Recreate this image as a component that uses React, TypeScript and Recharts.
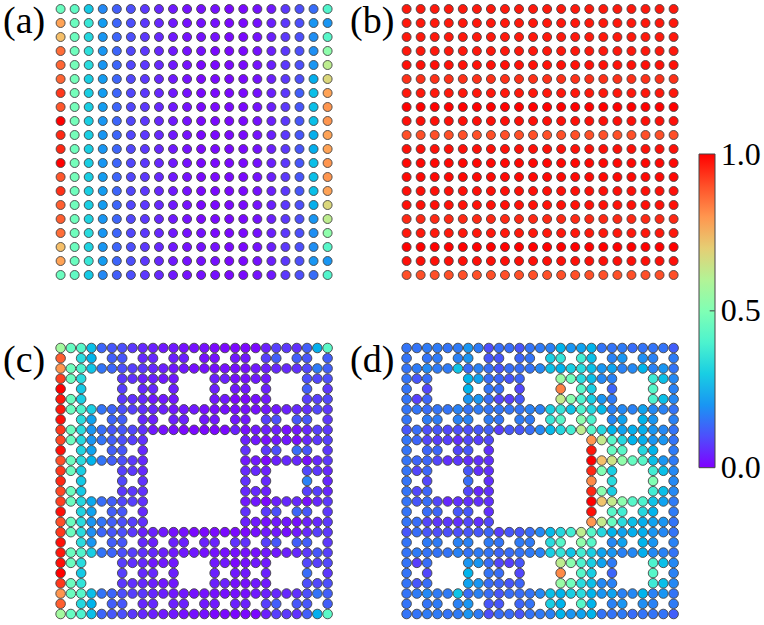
import React from 'react';
import { BarChart, Bar, ScatterChart, Scatter, XAxis, YAxis } from 'recharts';

const _ = null;

// site values in percent; null = no site
const panelARows = [
  [46,44,29,18,12,10,7,5,3,2,2,2,1,1,2,3,7,10,14,41],
  [78,46,36,21,13,10,7,5,3,2,2,2,1,1,2,4,7,10,20,20],
  [73,46,32,20,13,10,7,5,3,2,2,2,1,1,2,4,7,10,19,42],
  [86,47,34,20,13,9,7,5,3,2,2,1,1,1,2,4,7,10,19,53],
  [87,48,33,20,13,9,7,5,3,2,1,1,1,1,2,4,7,10,20,62],
  [87,48,30,21,13,9,7,5,3,2,1,1,1,1,2,4,7,10,24,68],
  [93,48,30,21,13,9,7,5,3,2,1,1,1,1,2,4,7,12,27,78],
  [89,48,30,21,13,9,7,5,3,2,1,1,1,1,2,4,7,11,27,80],
  [100,48,30,20,13,9,7,5,3,2,1,1,1,1,2,4,7,11,27,80],
  [95,48,30,20,13,9,7,5,3,2,1,1,1,1,2,4,7,11,24,78],
  [95,47,30,20,13,9,7,5,3,2,1,1,1,1,2,4,7,11,24,78],
  [100,48,30,20,13,9,7,5,3,2,1,1,1,1,2,4,7,11,27,80],
  [89,48,30,21,13,9,7,5,3,2,1,1,1,1,2,4,7,11,27,80],
  [94,47,30,21,13,9,7,5,3,2,1,1,1,1,2,4,7,11,27,78],
  [88,47,30,21,13,9,7,5,3,2,1,1,1,1,2,4,7,10,24,68],
  [88,47,31,20,13,9,7,5,3,2,1,1,1,1,2,4,7,10,20,62],
  [86,47,33,20,13,9,7,5,3,2,2,1,1,1,2,4,7,10,19,53],
  [73,46,31,20,13,10,7,5,3,2,2,2,1,1,2,4,7,10,19,42],
  [78,46,36,21,13,10,7,5,3,2,2,2,1,1,2,4,7,10,20,20],
  [46,44,29,18,12,10,7,5,3,2,2,2,1,1,2,3,7,10,14,41],
];

// panel (b): every site in a row has the same value
const panelBRowValues = [97,97,97,97,98,94,97,100,98,90,98,99,99,98,98,95,97,100,98,90];
const panelBColumnCount = 20;

const panelCRows = [
  [57,45,42,27,13,11,10,7,5,4,3,3,2,2,2,1,1,1,1,1,4,8,7,6,12,24,43],
  [88,_,33,25,_,12,11,_,5,5,_,4,4,_,2,2,_,3,3,_,8,12,_,12,11,_,12],
  [80,47,40,28,15,13,10,8,7,5,4,3,3,2,2,2,2,2,2,3,4,5,5,6,9,16,12],
  [92,46,33,_,_,_,7,6,4,4,3,3,_,_,_,4,4,2,2,3,3,_,_,_,10,9,10],
  [100,_,29,_,_,_,8,_,5,5,_,4,_,_,_,4,_,3,3,_,4,_,_,_,12,_,7],
  [97,46,30,_,_,_,7,6,5,3,3,3,_,_,_,3,3,1,1,2,3,_,_,_,8,8,9],
  [97,46,40,30,15,13,10,8,6,5,4,3,3,3,2,2,2,2,2,2,3,3,4,5,6,9,7],
  [98,_,33,22,_,13,12,_,5,4,_,4,4,_,3,3,_,3,3,_,8,10,_,11,11,_,7],
  [93,46,33,20,14,11,11,9,6,3,2,2,1,1,1,1,1,4,2,3,4,4,2,3,5,8,7],
  [91,46,32,20,15,12,10,8,6,_,_,_,_,_,_,_,_,_,4,3,2,3,3,2,5,7,8],
  [98,_,31,22,_,12,11,_,5,_,_,_,_,_,_,_,_,_,6,_,7,10,_,14,11,_,7],
  [90,46,33,25,15,12,10,7,5,_,_,_,_,_,_,_,_,_,3,3,1,4,5,5,2,5,7],
  [93,46,30,_,_,_,8,7,5,_,_,_,_,_,_,_,_,_,5,5,4,_,_,_,9,7,5],
  [95,_,29,_,_,_,9,_,6,_,_,_,_,_,_,_,_,_,6,_,5,_,_,_,17,_,5],
  [91,46,29,_,_,_,7,7,6,_,_,_,_,_,_,_,_,_,5,5,4,_,_,_,8,8,5],
  [92,46,32,23,14,12,9,8,6,_,_,_,_,_,_,_,_,_,3,3,1,4,5,5,2,5,7],
  [98,_,31,22,_,12,11,_,5,_,_,_,_,_,_,_,_,_,6,_,7,10,_,13,11,_,7],
  [90,46,33,20,15,12,10,8,6,_,_,_,_,_,_,_,_,_,4,3,2,3,3,2,4,5,7],
  [93,46,33,19,13,11,10,7,4,4,3,2,2,1,1,1,1,1,1,2,3,3,2,3,5,8,7],
  [98,_,33,20,_,12,11,_,5,4,_,4,4,_,4,4,_,6,6,_,8,11,_,12,12,_,7],
  [97,46,41,30,15,13,10,8,6,5,4,3,3,3,2,2,2,2,2,2,3,3,4,5,7,11,8],
  [98,46,33,_,_,_,8,6,5,3,3,3,_,_,_,3,3,1,2,3,3,_,_,_,9,8,9],
  [100,_,29,_,_,_,8,_,5,5,_,4,_,_,_,4,_,3,3,_,4,_,_,_,14,_,7],
  [93,46,35,_,_,_,7,6,5,4,3,3,_,_,_,4,4,2,2,3,3,_,_,_,10,9,10],
  [80,46,42,27,15,13,10,8,7,5,4,3,3,2,2,2,2,2,2,3,4,5,5,6,10,15,12],
  [88,_,32,25,_,12,11,_,5,5,_,4,4,_,3,3,_,4,4,_,8,12,_,11,11,_,12],
  [57,45,40,27,13,11,10,7,5,4,3,3,2,2,2,1,1,1,1,1,4,8,7,6,12,24,43],
];

const panelDRows = [
  [15,15,16,16,15,16,20,16,10,14,14,11,15,16,17,25,20,22,25,15,15,16,14,15,15,15,12],
  [15,_,15,16,_,17,20,_,11,11,_,13,15,_,30,35,_,38,27,_,17,20,_,19,17,_,16],
  [15,16,18,16,16,28,14,17,14,11,14,14,15,18,27,25,30,33,27,20,22,17,18,25,17,20,15],
  [15,11,14,_,_,_,25,22,14,13,11,13,_,_,_,55,47,33,27,18,17,_,_,_,37,27,18],
  [15,_,9,_,_,_,25,_,15,14,_,9,_,_,_,83,_,42,30,_,13,_,_,_,42,_,17],
  [15,8,13,_,_,_,20,20,14,9,8,11,_,_,_,63,52,40,30,20,16,_,_,_,40,27,18],
  [15,15,14,15,15,17,15,16,15,15,15,15,17,17,30,35,28,40,32,26,17,18,17,22,18,17,15],
  [15,_,16,16,_,17,17,_,16,15,_,16,16,_,36,42,_,52,40,_,18,22,_,25,20,_,17],
  [11,14,10,11,9,10,10,11,12,8,11,11,14,18,26,32,38,62,42,32,25,22,24,24,20,18,15],
  [15,13,9,8,8,6,9,8,9,_,_,_,_,_,_,_,_,_,80,63,42,32,25,24,20,20,15],
  [15,_,13,13,_,9,11,_,6,_,_,_,_,_,_,_,_,_,97,_,45,42,_,32,25,_,16],
  [15,13,13,9,6,7,6,6,6,_,_,_,_,_,_,_,_,_,100,73,65,53,45,42,27,20,16],
  [15,9,13,_,_,_,11,6,6,_,_,_,_,_,_,_,_,_,95,50,30,_,_,_,38,27,18],
  [15,_,9,_,_,_,14,_,6,_,_,_,_,_,_,_,_,_,82,_,33,_,_,_,50,_,18],
  [15,9,13,_,_,_,9,5,6,_,_,_,_,_,_,_,_,_,95,52,30,_,_,_,38,27,18],
  [15,11,14,9,5,6,6,6,6,_,_,_,_,_,_,_,_,_,100,72,63,52,42,40,28,22,16],
  [15,_,14,13,_,11,11,_,6,_,_,_,_,_,_,_,_,_,98,_,42,38,_,32,25,_,16],
  [15,14,9,7,7,6,9,6,9,_,_,_,_,_,_,_,_,_,80,63,45,33,27,24,22,20,15],
  [11,14,11,10,10,10,11,11,13,8,11,11,14,18,26,32,38,62,42,32,25,22,24,24,20,18,15],
  [15,_,16,16,_,17,17,_,16,15,_,16,16,_,33,42,_,53,42,_,18,22,_,25,20,_,17],
  [15,16,15,15,15,17,15,16,15,13,14,15,16,17,30,35,28,38,30,22,20,17,18,24,18,17,15],
  [15,8,14,_,_,_,20,20,14,9,8,11,_,_,_,62,52,40,30,22,16,_,_,_,40,27,18],
  [15,_,9,_,_,_,25,_,15,14,_,9,_,_,_,82,_,42,30,_,13,_,_,_,42,_,17],
  [15,11,14,_,_,_,22,20,14,13,11,13,_,_,_,55,47,33,27,18,17,_,_,_,37,27,18],
  [15,16,18,16,16,28,14,17,14,11,14,14,15,18,27,25,30,33,25,20,22,17,18,25,17,20,15],
  [15,_,15,16,_,17,20,_,11,11,_,13,15,_,30,25,_,42,25,_,17,20,_,19,17,_,16],
  [15,15,16,16,15,16,20,16,10,14,14,11,15,16,17,25,20,22,25,15,15,16,14,15,15,15,12],
];

const colorbarTicks = [0, 0.5, 1];
const colorbarStops = [0, 10, 20, 30, 40, 50, 60, 70, 80, 90, 100];

const SERIF = '"Liberation Serif", "Times New Roman", serif';
const EDGE = '#454545';

// matplotlib's "rainbow" colormap
const rainbow = (pct: number) => {
  const x = pct / 100;
  const r = Math.round(Math.abs(2 * x - 0.5) * 255);
  const g = Math.round(Math.sin(x * Math.PI) * 255);
  const b = Math.round(Math.cos((x * Math.PI) / 2) * 255);
  return `rgb(${Math.min(r, 255)},${g},${b})`;
};

const toPoints = (rows: (number | null)[][]) =>
  rows.flatMap((row, r) =>
    row.flatMap((v, c) => (v === null ? [] : [{ col: c, row: r, v }])),
  );

const panelBRows = panelBRowValues.map((v) => Array(panelBColumnCount).fill(v));

interface PanelProps {
  label: string;
  rows: (number | null)[][];
  left: number;
  top: number;
  radius: number;
  labelLeft: number;
  labelTop: number;
}

const Panel = ({ label, rows, left, top, radius, labelLeft, labelTop }: PanelProps) => {
  const n = rows.length - 1;
  return (
    <>
      <div
        style={{
          position: 'absolute',
          left: labelLeft,
          top: labelTop,
          fontFamily: SERIF,
          fontSize: 38,
          lineHeight: '38px',
          color: '#000',
        }}
      >
        {label}
      </div>
      <div style={{ position: 'absolute', left, top }}>
        <ScatterChart
          width={286}
          height={286}
          margin={{ top: 10, right: 9.4, bottom: 10, left: 9.6 }}
        >
          <XAxis type="number" dataKey="col" domain={[0, n]} hide />
          <YAxis type="number" dataKey="row" domain={[0, n]} reversed hide />
          <Scatter
            data={toPoints(rows)}
            isAnimationActive={false}
            shape={(p: any) => (
              <circle
                cx={p.cx}
                cy={p.cy}
                r={radius}
                fill={rainbow(p.payload.v)}
                stroke={EDGE}
                strokeWidth={0.9}
              />
            )}
          />
        </ScatterChart>
      </div>
    </>
  );
};

const ColorbarTick = ({ x, y, payload }: any) => (
  <g>
    {payload.value === 0.5 && <line x1={x - 5} x2={x} y1={y} y2={y} stroke={EDGE} strokeWidth={1} />}
    <text x={x + 6} y={y + 10.5} fontFamily={SERIF} fontSize={32} fill="#000">
      {payload.value.toFixed(1)}
    </text>
  </g>
);

const Colorbar = () => (
  <div style={{ position: 'absolute', left: 690, top: 130 }}>
    <BarChart
      width={74}
      height={370}
      data={[{ name: 'scale', top: 1 }]}
      margin={{ top: 24, right: 0, bottom: 32.3, left: 9 }}
      barCategoryGap={0}
    >
      <defs>
        <linearGradient id="rainbowBar" x1="0" y1="1" x2="0" y2="0">
          {colorbarStops.map((s) => (
            <stop key={s} offset={`${s}%`} stopColor={rainbow(s)} />
          ))}
        </linearGradient>
      </defs>
      <XAxis dataKey="name" hide />
      <YAxis
        orientation="right"
        width={49.3}
        domain={[0, 1]}
        ticks={colorbarTicks}
        interval={0}
        axisLine={false}
        tickLine={false}
        tickSize={0}
        tickMargin={0}
        tick={<ColorbarTick />}
      />
      <Bar
        dataKey="top"
        fill="url(#rainbowBar)"
        stroke={EDGE}
        strokeWidth={1}
        isAnimationActive={false}
      />
    </BarChart>
  </div>
);

export default function App() {
  return (
    <div style={{ position: 'absolute', left: 0, top: 0, width: 764, height: 625, background: '#fff', overflow: 'hidden' }}>
      <Panel label="(a)" rows={panelARows} left={51} top={-1.3} radius={4.5} labelLeft={3} labelTop={1} />
      <Panel label="(b)" rows={panelBRows} left={397} top={-1.3} radius={4.5} labelLeft={350} labelTop={1} />
      <Panel label="(c)" rows={panelCRows} left={51} top={338} radius={4.8} labelLeft={3} labelTop={340} />
      <Panel label="(d)" rows={panelDRows} left={397} top={338} radius={4.8} labelLeft={350} labelTop={340} />
      <Colorbar />
    </div>
  );
}
